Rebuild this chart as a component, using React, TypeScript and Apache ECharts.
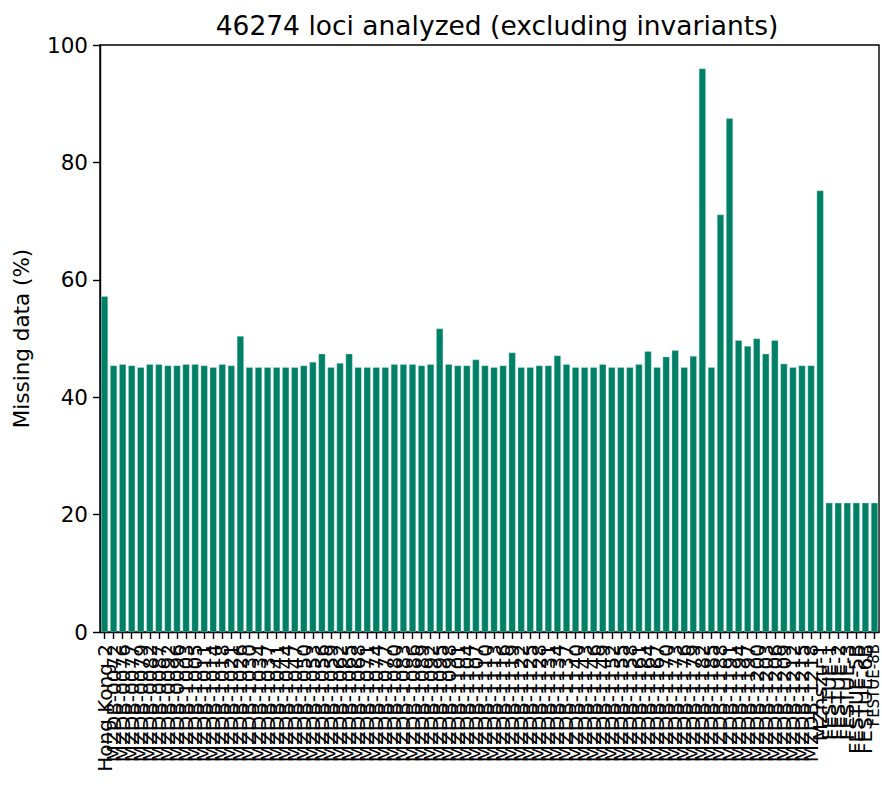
import React, { useEffect, useRef } from "react";
import * as echarts from "echarts";

const TITLE = "46274 loci analyzed (excluding invariants)";
const Y_NAME = "Missing data (%)";

const labels: string[] = [
  "Hong Kong 2",
  "MZDB-0072", "MZDB-0076", "MZDB-0077", "MZDB-0079", "MZDB-0082", "MZDB-0087", "MZDB-0092", "MZDB-0096",
  "MZDB-1003", "MZDB-1005", "MZDB-1011", "MZDB-1014", "MZDB-1018", "MZDB-1021", "MZDB-1026", "MZDB-1030",
  "MZDB-1034", "MZDB-1037", "MZDB-1041", "MZDB-1044", "MZDB-1047", "MZDB-1050", "MZDB-1053", "MZDB-1056",
  "MZDB-1059", "MZDB-1062", "MZDB-1065", "MZDB-1068", "MZDB-1071", "MZDB-1074", "MZDB-1077", "MZDB-1080",
  "MZDB-1083", "MZDB-1086", "MZDB-1089", "MZDB-1092", "MZDB-1095", "MZDB-1098", "MZDB-1101", "MZDB-1104",
  "MZDB-1107", "MZDB-1110", "MZDB-1113", "MZDB-1116", "MZDB-1119", "MZDB-1122", "MZDB-1125", "MZDB-1128",
  "MZDB-1131", "MZDB-1134", "MZDB-1137", "MZDB-1140", "MZDB-1143", "MZDB-1146", "MZDB-1149", "MZDB-1152",
  "MZDB-1155", "MZDB-1158", "MZDB-1161", "MZDB-1164", "MZDB-1167", "MZDB-1170", "MZDB-1173", "MZDB-1176",
  "MZDB-1179", "MZDB-1182", "MZDB-1185", "MZDB-1188", "MZDB-1191", "MZDB-1194", "MZDB-1197", "MZDB-1200",
  "MZDB-1203", "MZDB-1206", "MZDB-1209", "MZDB-1212", "MZDB-1215", "MZDB-1218",
  "MZnszu-1",
  "FESTUE-1", "FESTUE-2", "FESTUE-3", "FESTUE-5B", "FESTUE-6B", "FESTUE-8B",
];

const missing: number[] = [
  57.2,
  45.4, 45.6, 45.4, 45.1, 45.6, 45.6, 45.4, 45.4,
  45.6, 45.6, 45.4, 45.1, 45.6, 45.4, 50.4, 45.1,
  45.1, 45.1, 45.1, 45.1, 45.1, 45.4, 46.0, 47.4,
  45.1, 45.8, 47.4, 45.1, 45.1, 45.1, 45.1, 45.6,
  45.6, 45.6, 45.4, 45.6, 51.7, 45.6, 45.4, 45.4,
  46.4, 45.4, 45.1, 45.4, 47.6, 45.1, 45.1, 45.4,
  45.4, 47.1, 45.6, 45.1, 45.1, 45.1, 45.6, 45.1,
  45.1, 45.1, 45.6, 47.8, 45.1, 46.9, 48.0, 45.1,
  47.0, 96.0, 45.1, 71.1, 87.5, 49.7, 48.7, 50.0,
  47.4, 49.7, 45.7, 45.1, 45.4, 45.4,
  75.2,
  22.0, 22.0, 22.0, 22.0, 22.0, 22.0,
];

const yTicks = { min: 0, max: 100, interval: 20 };

const FONT = "DejaVu Sans";

export default function App() {
  const ref = useRef<HTMLDivElement>(null);
  useEffect(() => {
    if (!ref.current) return;
    const chart = echarts.init(ref.current, null, { renderer: "svg" });
    const lastIdx = labels.length - 1;
    const catData = labels.map((l, i) =>
      i === lastIdx ? { value: l, textStyle: { fontSize: 15, lineHeight: 13 } } : l
    );
    chart.setOption({
      animation: false,
      backgroundColor: "#ffffff",
      title: {
        text: TITLE,
        left: 492,
        top: 7,
        textAlign: "center",
        textStyle: { fontFamily: FONT, fontSize: 26.5, fontWeight: "normal", color: "#000" },
      },
      grid: {
        left: 100,
        right: 3,
        top: 45,
        bottom: 167,
        show: true,
        borderColor: "#000",
        borderWidth: 1.4,
        backgroundColor: "transparent",
      },
      xAxis: {
        type: "category",
        data: catData,
        axisLine: { show: true, lineStyle: { color: "#000", width: 1.4 } },
        axisTick: { show: true, alignWithLabel: true, length: 7, lineStyle: { color: "#000", width: 1.4 } },
        axisLabel: {
          interval: 0,
          rotate: 90,
          margin: 12,
          fontFamily: FONT,
          fontSize: 20,
          lineHeight: 18,
          color: "#000",
          hideOverlap: false,
        },
        splitLine: { show: false },
      },
      yAxis: {
        type: "value",
        min: yTicks.min,
        max: yTicks.max,
        interval: yTicks.interval,
        name: Y_NAME,
        nameLocation: "middle",
        nameGap: 68,
        nameRotate: 90,
        nameTextStyle: { fontFamily: FONT, fontSize: 21.5, color: "#000" },
        axisLine: { show: true, lineStyle: { color: "#000", width: 1.4 } },
        axisTick: { show: true, length: 7, lineStyle: { color: "#000", width: 1.4 } },
        axisLabel: { margin: 12, fontFamily: FONT, fontSize: 21.5, color: "#000" },
        splitLine: { show: false },
      },
      series: [
        {
          type: "bar",
          data: missing,
          barWidth: "76%",
          itemStyle: { color: "#008066", borderColor: "rgba(200,235,225,0.9)", borderWidth: 0.4 },
        },
      ],
    });
    return () => chart.dispose();
  }, []);
  return (
    <div
      ref={ref}
      style={{ position: "fixed", left: 0, top: 0, width: 882, height: 799, background: "#fff" }}
    />
  );
}
